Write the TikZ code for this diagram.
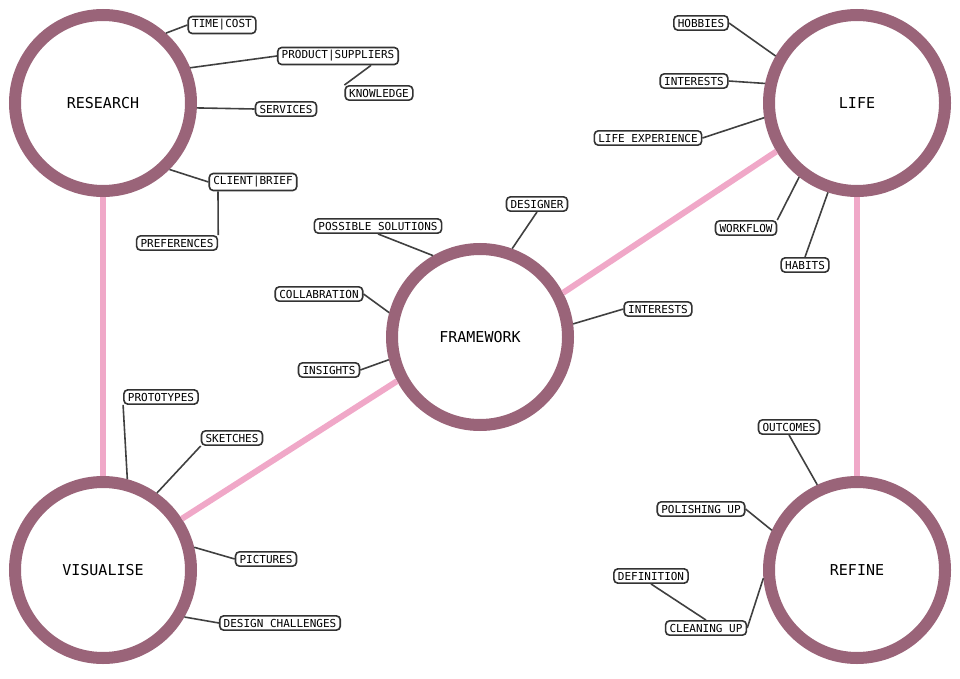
\documentclass[tikz,border=0pt]{standalone}
\usepackage{fontspec}
\setmonofont{DejaVu Sans Mono}
\definecolor{ring}{HTML}{9A6479}
\definecolor{pinkl}{HTML}{F0A8C8}
\begin{document}
\begin{tikzpicture}[x=1pt,y=-1pt,
 hub/.style={circle,draw=ring,line width=12pt,minimum size=176pt,fill=white,font=\ttfamily\fontsize{15}{17}\selectfont},
 tag/.style={draw=black!80,line width=1.6pt,rounded corners=4pt,fill=white,inner xsep=4pt,inner ysep=3pt,font=\ttfamily\fontsize{11}{12}\selectfont},
 link/.style={draw=black!75,line width=1.6pt},
 pk/.style={draw=pinkl,line width=6pt}]
\useasboundingbox (0,0) rectangle (960,679);
\node[hub] (res) at (103,103) {RESEARCH};
\node[hub] (life) at (857,103) {LIFE};
\node[hub] (fw) at (480,337) {FRAMEWORK};
\node[hub] (vis) at (103,570) {VISUALISE};
\node[hub] (ref) at (857,570) {REFINE};
\begin{scope}[on background layer/.try]
\end{scope}
\node[tag] (tc) at (222,25) {TIME|COST};
\node[tag] (ps) at (338,56) {PRODUCT|SUPPLIERS};
\node[tag] (kn) at (379,93) {KNOWLEDGE};
\node[tag] (sv) at (286,109) {SERVICES};
\node[tag] (cb) at (253,182) {CLIENT|BRIEF};
\node[tag] (pr) at (177,243) {PREFERENCES};
\node[tag] (hb) at (701,23) {HOBBIES};
\node[tag] (in1) at (694,81) {INTERESTS};
\node[tag] (le) at (648,138) {LIFE EXPERIENCE};
\node[tag] (wf) at (746,228) {WORKFLOW};
\node[tag] (ha) at (805,265) {HABITS};
\node[tag] (pso) at (378,226) {POSSIBLE SOLUTIONS};
\node[tag] (de) at (537,204) {DESIGNER};
\node[tag] (co) at (319,294) {COLLABRATION};
\node[tag] (in2) at (658,309) {INTERESTS};
\node[tag] (ins) at (329,370) {INSIGHTS};
\node[tag] (pt) at (161,397) {PROTOTYPES};
\node[tag] (sk) at (232,438) {SKETCHES};
\node[tag] (pi) at (266,559) {PICTURES};
\node[tag] (dc) at (280,623) {DESIGN CHALLENGES};
\node[tag] (oc) at (789,427) {OUTCOMES};
\node[tag] (po) at (701,509) {POLISHING UP};
\node[tag] (df) at (651,576) {DEFINITION};
\node[tag] (cu) at (706,628) {CLEANING UP};
% connectors
\draw[link] (res.48) -- (tc.west);
\draw[link] (res.22) -- (ps.west);
\draw[link] (ps.south east) ++(-28,0) coordinate (psk) (psk) -- (kn.north west);
\draw[link] (res.-3) -- (sv.west);
\draw[link] (res.-45) -- (cb.west);
\draw[link] (cb.south) ++(-35,0) coordinate (cbs) (cbs) -- (pr.north east);
\draw[link] (life.150) -- (hb.east);
\draw[link] (life.168) -- (in1.east);
\draw[link] (life.189) -- (le.east);
\draw[link] (life.232) -- (wf.north east);
\draw[link] (life.252) -- (ha.north);
\draw[link] (fw.120) -- (pso.south);
\draw[link] (fw.70) -- (de.south);
\draw[link] (fw.165) -- (co.east);
\draw[link] (fw.8) -- (in2.west);
\draw[link] (fw.194) -- (ins.east);
\draw[link] (vis.75) -- (pt.south west);
\draw[link] (vis.55) -- (sk.south west);
\draw[link] (vis.14) -- (pi.west);
\draw[link] (vis.-30) -- (dc.west);
\draw[link] (ref.115) -- (oc.south);
\draw[link] (ref.155) -- (po.east);
\draw[link] (ref.-175) -- (cu.east);
\draw[link] (cu.north) ++(0,0) coordinate (cun) (cun) -- (df.south);
% pink
\draw[pk] (res.south) -- (vis.north);
\draw[pk] (life.south) -- (ref.north);
\draw[pk] (fw.28) -- (life.211);
\draw[pk] (fw.208) -- (vis.33);
\end{tikzpicture}
\end{document}
